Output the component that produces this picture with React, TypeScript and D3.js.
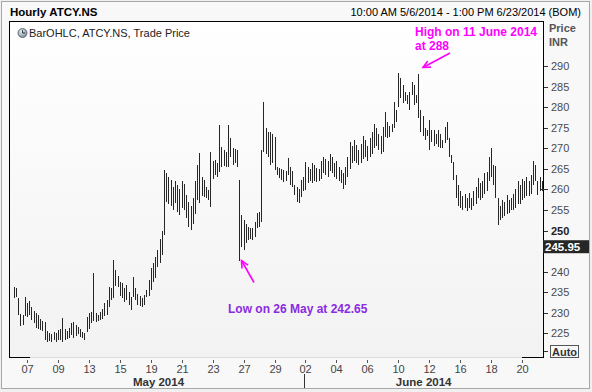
import React from "react";
import * as d3 from "d3";

// ---- data ----
const tradingDays = [
  "05-06","05-07","05-08","05-09","05-12","05-13","05-14","05-15","05-16",
  "05-19","05-20","05-21","05-22","05-23","05-26","05-27","05-28","05-29","05-30",
  "06-02","06-03","06-04","06-05","06-06","06-09","06-10","06-11","06-12","06-13",
  "06-16","06-17","06-18","06-19","06-20","06-23",
];
const barsPerDay = [6,7,7,7,7,7,7,7,7,7,7,7,7,7,7,7,7,7,7,7,7,7,7,7,7,7,7,7,7,7,7,7,7,7,3];

const xTickDays = ["05-07","05-09","05-13","05-15","05-19","05-21","05-23","05-27","05-29",
  "06-02","06-04","06-06","06-10","06-12","06-16","06-18","06-20"];
const xTickLabels = ["07","09","13","15","19","21","23","27","29","02","04","06","10","12","16","18","20"];
const months = [
  { label: "May 2014", from: "05-06", to: "05-30" },
  { label: "June 2014", from: "06-02", to: "06-23" },
];

const yTicks = [225,230,235,240,245,250,255,260,265,270,275,280,285,290];
const lastPrice = 245.95;

const highs = [
  236.3,236,233.5,229.8,229.5,233.9,232.5,232.8,231.3,230.5,
  230,229.5,228.6,228,227.8,225.5,225,224.8,225.3,225,
  225.8,226,228.8,226,225.5,226.3,227.5,227.8,227,226.5,
  226,225.3,225,229,230,230.3,239.7,230,229.5,230.2,
  231,232.5,233.2,236.3,236,242.8,240.4,239,237.5,237.3,
  236,236.8,235,233.8,238.7,236,234.5,234,233.5,234.3,
  235.5,238,241,242,243.6,245.3,248,250,264.7,264,
  263,262.3,260.5,262,261,260,262,261.2,258.6,257,
  256,258,262,266,268.9,263,262.3,260.6,259.9,269,
  267,267.2,266.5,275.7,270.3,269.6,269,275.7,272.5,270,
  269.8,269.6,262.3,253.8,252.6,251.5,250.9,250.5,250.7,252.1,
  254.3,254.5,269.6,281.2,274.9,274,274,273.5,272.7,265.4,
  265.2,265,264.7,264.5,267.6,265.4,264.5,261,260.6,260,
  262.3,263,266.7,265.4,265,266.4,266,265.2,265,267,
  268,267.5,266.8,268.5,268,266.5,267,265.5,264.8,264,
  265.5,268,271.5,270.5,272,270.8,269.5,271,273,272,
  270.5,272.5,274,276,275,273.5,273,275.2,278.8,276.4,
  275.5,276,281.2,279.3,288.3,287,285.5,283.7,283,283.7,
  286.1,285.4,283,288,279.3,277.8,274.9,274.5,276.9,274.5,
  274.4,273.5,274.4,273.5,272,275.2,276.4,272.5,268.4,266.7,
  263.5,261,259.5,258.5,259,258,259.2,258,259.5,260.5,
  262.8,261.5,262,264,264.3,267.9,270,266,265.8,258,
  256,257.5,257,258.6,257.5,258,259,260,262,261,
  262.5,262,263,262,263.5,267,266,262,263,262,
];
const lows = [
  233.5,233.8,229.5,226.8,227,229.2,229,229.5,228.3,227.5,
  226.3,226,225.8,225.5,223.4,223,223.2,222.9,223.3,223,
  223.5,223.4,222.9,223.5,223.6,224,224.5,224,224.3,224.8,
  224.2,224,223.5,225.3,226,227.5,228,227.8,228,228.2,
  228.5,229.3,229.5,231.4,233,233.5,236.5,236.3,234,233.5,
  232.6,233.2,232,230.7,233.8,233,232,231.6,231.4,232,
  233.8,234,235.5,237.5,238.5,241.1,242,244,249,257,
  256.5,256,255,256.8,254.5,253.8,255.5,255,253,250.8,
  250.2,251.5,254,257.4,256.7,258.5,258.2,257.9,257.4,255.7,
  262.5,263.5,263,264.2,265.4,265.6,265.4,265.4,267.9,266,
  266.5,265.4,242.65,246,245.3,247,247.7,248,247.8,248.4,
  250.6,250.8,252.1,269.1,268.5,267.9,266,266.5,264.7,263.5,
  262.8,262.3,261.8,262,263.5,261,260.6,258.6,257,256.7,
  258.2,259.5,259.9,261.6,262,261.6,262,261.8,262,262.5,
  264,263.5,263,264.5,264,263,262.5,262,261.5,260,
  261,263,265,266.5,267,266.5,266,266.5,267.5,268,
  267,268,268.5,270,270.5,269.5,268.5,269.1,272.7,272.5,
  272.8,274,274.9,276.4,280,282.2,281,281.5,280.8,279.3,
  283,280.5,281,277.4,274,273,272,273,269.6,271.5,
  270.5,271,270.3,270,270,271.3,272,267.9,266.4,262.3,
  258,256,255.5,255,255.5,254.8,255.5,255,256,256.5,
  258,257.5,258,259,259.5,262,263,261,258,251.3,
  252.5,253,253.5,254,254.3,255,255,255.5,256.5,256.5,
  257.5,258,258.5,258.3,259,261,262,258.6,259.5,259.5,
];

// ---- layout ----
const W = 592, H = 392;
const plot = { left: 9.5, top: 21.5, right: 543.5, bottom: 357.5 };
const FONT = "'Liberation Sans', Arial, sans-serif";

const dayStart: number[] = [];
{
  let acc = 0;
  barsPerDay.forEach((n) => { dayStart.push(acc); acc += n; });
}
const startIdx = (day: string) => dayStart[tradingDays.indexOf(day)];
const endIdx = (day: string) => { const i = tradingDays.indexOf(day); return dayStart[i] + barsPerDay[i] - 1; };

const x = d3.scaleLinear().domain([startIdx("05-07"), startIdx("06-20")]).range([27, 522]);
const y = d3.scaleLinear().domain([225, 290]).range([333.4, 66]);

export default function App() {
  const bars = highs.map((h, i) => ({ i, h, l: lows[i] }));
  const lastClose = 260;
  const arrowHead = (x1: number, y1: number, x2: number, y2: number) => {
    const a = Math.atan2(y2 - y1, x2 - x1);
    const len = 8, sp = 0.45;
    return `M${x2 - len * Math.cos(a - sp)},${y2 - len * Math.sin(a - sp)} L${x2},${y2} L${x2 - len * Math.cos(a + sp)},${y2 - len * Math.sin(a + sp)}`;
  };
  // tick label hidden under the last-price marker
  const hiddenTick = (t: number) => Math.abs(y(t) - y(lastPrice)) < 8;
  return (
    <svg width={W} height={H} style={{ position: "absolute", left: 0, top: 0 }} fontFamily={FONT}>
      <defs>
        <linearGradient id="pbg" x1="0" y1="0" x2="0" y2="1">
          <stop offset="0" stopColor="#ffffff" />
          <stop offset="1" stopColor="#f2f2f2" />
        </linearGradient>
        <radialGradient id="clk" cx="0.4" cy="0.35" r="0.7">
          <stop offset="0" stopColor="#e8eef4" />
          <stop offset="1" stopColor="#7a8896" />
        </radialGradient>
      </defs>
      <rect x={0} y={0} width={W} height={H} fill="#f0f0f0" />
      <rect x={1.5} y={1.5} width={588} height={387} fill="#f8f8f8" stroke="#a8a8a8" />
      <rect x={plot.left} y={plot.top} width={plot.right - plot.left} height={plot.bottom - plot.top} fill="url(#pbg)" />

      {/* title */}
      <text x={10} y={16} fontSize={11.5} fontWeight="bold" fill="#000">Hourly ATCY.NS</text>
      <text x={581} y={16} fontSize={11} textAnchor="end" fill="#000">10:00 AM 5/6/2014 - 1:00 PM 6/23/2014 (BOM)</text>

      {/* bars */}
      <g stroke="#262626" strokeWidth={1} shapeRendering="crispEdges">
        {bars.map((b) => {
          const xx = Math.round(x(b.i)) + 0.5;
          return <line key={b.i} x1={xx} x2={xx} y1={y(b.h)} y2={y(b.l)} />;
        })}
      </g>

      {/* frame */}
      <g stroke="#000" strokeWidth={1} fill="none" shapeRendering="crispEdges">
        <path d={`M${plot.left},${plot.bottom} V${plot.top} H${plot.right} V${plot.bottom}`} />
        <line x1={plot.left} x2={30} y1={plot.bottom} y2={plot.bottom} />
        <line x1={522} x2={plot.right} y1={plot.bottom} y2={plot.bottom} />
      </g>
      <line x1={30} x2={522} y1={plot.bottom} y2={plot.bottom} stroke="#dcdcdc" shapeRendering="crispEdges" />

      {/* legend */}
      <circle cx={22.5} cy={33} r={4.5} fill="url(#clk)" stroke="#4a5560" strokeWidth={0.8} />
      <path d="M22.5,30.2 V33 H25" stroke="#222" strokeWidth={0.9} fill="none" />
      <text x={29} y={37} fontSize={11} fill="#222">BarOHLC, ATCY.NS, Trade Price</text>

      {/* y axis */}
      <text x={549} y={32} fontSize={11} fontWeight="bold" fill="#555">Price</text>
      <text x={549} y={46} fontSize={11} fontWeight="bold" fill="#555">INR</text>
      <g shapeRendering="crispEdges">
        {yTicks.map((t) => (
          <g key={t}>
            <line x1={544} x2={548} y1={Math.round(y(t)) + 0.5} y2={Math.round(y(t)) + 0.5} stroke="#333" />
            {!hiddenTick(t) && (
              <text x={551} y={y(t) + 4} fontSize={11} fill={t === 250 ? "#222" : "#4a4a4a"} fontWeight={t === 250 ? "bold" : "normal"}>{t}</text>
            )}
          </g>
        ))}
        <line x1={541} x2={544} y1={Math.round(y(lastClose)) + 0.5} y2={Math.round(y(lastClose)) + 0.5} stroke="#333" />
      </g>
      <rect x={543} y={y(lastPrice) - 7} width={46} height={13} fill="#262626" />
      <text x={545} y={y(lastPrice) + 4} fontSize={11.5} fontWeight="bold" fill="#fff">{lastPrice.toFixed(2)}</text>
      <line x1={544} x2={548} y1={351.5} y2={351.5} stroke="#333" />
      <rect x={550.5} y={345.5} width={28} height={12} fill="#f8f8f8" stroke="#555" />
      <text x={552} y={355.5} fontSize={11} fontWeight="bold" fill="#333">Auto</text>

      {/* x axis */}
      <g>
        {xTickDays.map((d, k) => {
          const xx = Math.round(x(startIdx(d))) + 0.5;
          return (
            <g key={d}>
              <line x1={xx} x2={xx} y1={360} y2={363} stroke="#555" shapeRendering="crispEdges" />
              <text x={xx} y={372.5} fontSize={11} textAnchor="middle" fill="#444">{xTickLabels[k]}</text>
            </g>
          );
        })}
        {months.map((m) => {
          const cx = (x(startIdx(m.from)) + x(endIdx(m.to))) / 2;
          return <text key={m.label} x={cx} y={386} fontSize={11.5} fontWeight="bold" textAnchor="middle" fill="#333">{m.label}</text>;
        })}
        <line x1={Math.round(x(startIdx("06-02"))) - 0.5} x2={Math.round(x(startIdx("06-02"))) - 0.5} y1={374} y2={388} stroke="#333" shapeRendering="crispEdges" />
      </g>

      {/* annotations */}
      <text x={415} y={36} fontSize={12} fontWeight="bold" fill="#ff00ff">High on 11 June 2014</text>
      <text x={415} y={50} fontSize={12} fontWeight="bold" fill="#ff00ff">at 288</text>
      <line x1={450} y1={53} x2={423} y2={67.5} stroke="#ff00ff" strokeWidth={1.6} />
      <path d={arrowHead(450, 53, 423, 67.5)} stroke="#ff00ff" strokeWidth={1.6} fill="none" />

      <text x={228} y={313} fontSize={12} fontWeight="bold" fill="#8a2be2">Low on 26 May at 242.65</text>
      <line x1={254} y1={282.5} x2={241.5} y2={260.5} stroke="#ff00ff" strokeWidth={1.6} />
      <path d={arrowHead(254, 282.5, 241.5, 260.5)} stroke="#ff00ff" strokeWidth={1.6} fill="none" />
    </svg>
  );
}
